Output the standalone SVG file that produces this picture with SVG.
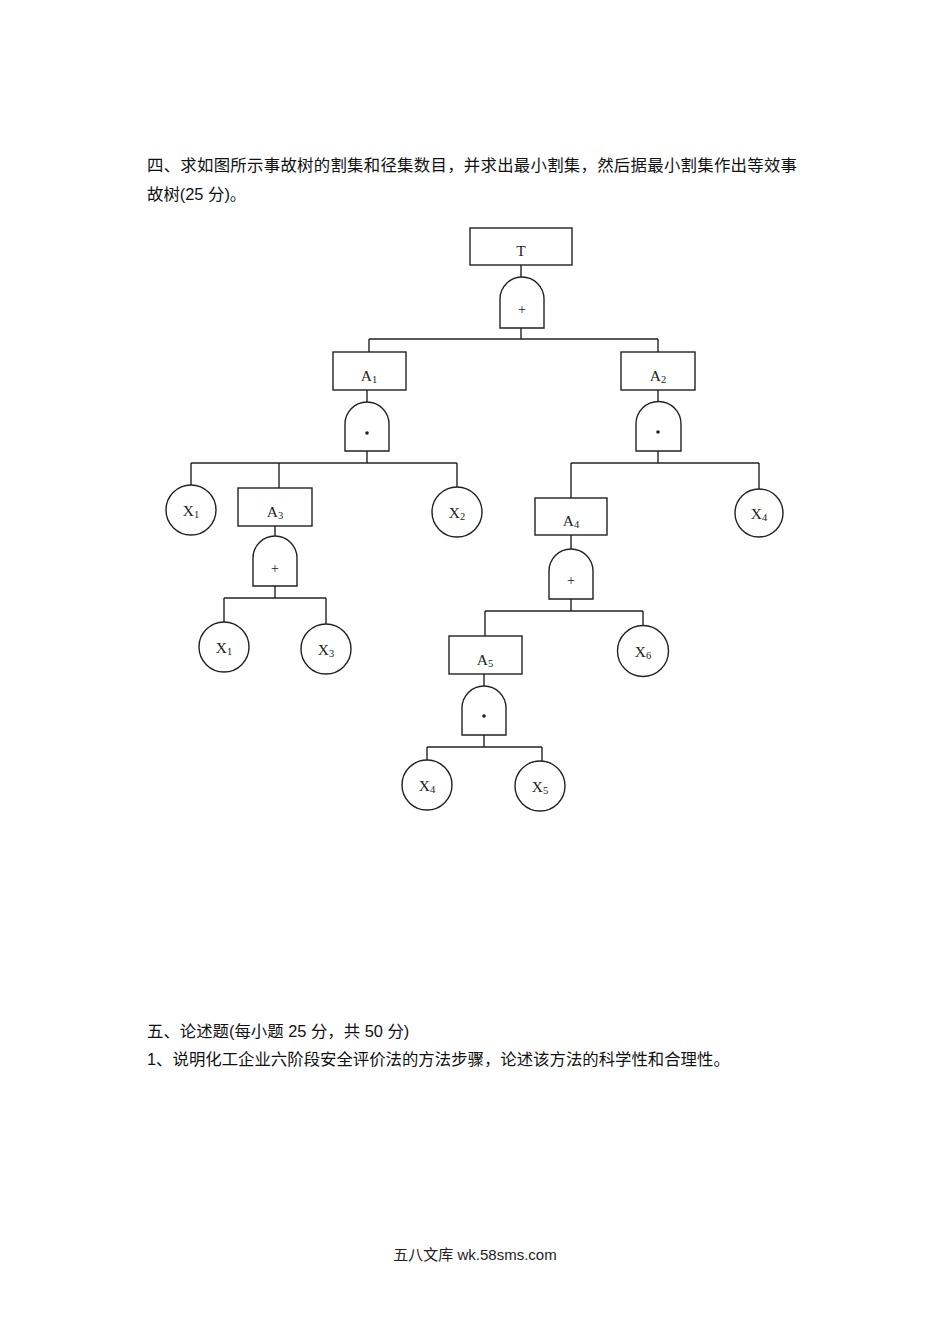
<svg xmlns="http://www.w3.org/2000/svg" width="950" height="1344" viewBox="0 0 950 1344">
<style>
.box{fill:#fff;stroke:#222;stroke-width:1.4}
.gate{fill:#fff;stroke:#222;stroke-width:1.4}
.ev{fill:#fff;stroke:#222;stroke-width:1.4}
.lbl{font-family:"Liberation Serif",serif;font-size:15.5px;fill:#222;text-anchor:middle}
.sub{font-size:10.5px}
.sym{font-family:"Liberation Serif",serif;font-size:14px;fill:#222;text-anchor:middle}
.cn{font-family:"Liberation Sans","Noto Sans CJK SC",sans-serif;font-size:16.4px;fill:#111}
#connectors line{stroke:#222;stroke-width:1.4}
</style>
<rect width="950" height="1344" fill="#fff"/>
<text class="cn" x="147" y="171" textLength="650" lengthAdjust="spacing">四、求如图所示事故树的割集和径集数目，并求出最小割集，然后据最小割集作出等效事</text>
<text class="cn" x="147" y="200">故树(25 分)。</text>

<g id="connectors">
<line x1="521" y1="265" x2="521" y2="277"/>
<line x1="521" y1="328" x2="521" y2="339"/>
<line x1="369" y1="339" x2="658" y2="339"/>
<line x1="369" y1="339" x2="369" y2="352"/>
<line x1="658" y1="339" x2="658" y2="352"/>
<line x1="367" y1="390" x2="367" y2="402"/>
<line x1="367" y1="451" x2="367" y2="463"/>
<line x1="191" y1="463" x2="457" y2="463"/>
<line x1="191" y1="463" x2="191" y2="485"/>
<line x1="279" y1="463" x2="279" y2="488"/>
<line x1="457" y1="463" x2="457" y2="487"/>
<line x1="658" y1="390" x2="658" y2="402"/>
<line x1="658" y1="451" x2="658" y2="463"/>
<line x1="571" y1="463" x2="759" y2="463"/>
<line x1="571" y1="463" x2="571" y2="498"/>
<line x1="759" y1="463" x2="759" y2="489"/>
<line x1="275" y1="526" x2="275" y2="536"/>
<line x1="275" y1="586" x2="275" y2="598"/>
<line x1="224" y1="598" x2="326" y2="598"/>
<line x1="224" y1="598" x2="224" y2="622"/>
<line x1="326" y1="598" x2="326" y2="624"/>
<line x1="571" y1="535" x2="571" y2="549"/>
<line x1="571" y1="599" x2="571" y2="611"/>
<line x1="485" y1="611" x2="643" y2="611"/>
<line x1="485" y1="611" x2="485" y2="636"/>
<line x1="643" y1="611" x2="643" y2="625"/>
<line x1="484" y1="674" x2="484" y2="686"/>
<line x1="484" y1="735" x2="484" y2="747"/>
<line x1="427" y1="747" x2="542" y2="747"/>
<line x1="427" y1="747" x2="427" y2="760"/>
<line x1="542" y1="747" x2="542" y2="761"/>
</g>

<g id="T"><rect class="box" x="470" y="228" width="102" height="37"/><text class="lbl" x="521" y="256">T</text></g>
<g id="G_T"><path class="gate" d="M500,328 V299 A22,22 0 0 1 544,299 V328 Z"/><text class="sym" x="522" y="314">+</text></g>

<g id="A1"><rect class="box" x="333" y="352" width="73" height="38"/><text class="lbl" x="369" y="381">A<tspan class="sub" dy="2">1</tspan></text></g>
<g id="G_A1"><path class="gate" d="M345,451 V424 A22,22 0 0 1 389,424 V451 Z"/><circle cx="367" cy="433" r="1.8" fill="#222"/></g>

<g id="A2"><rect class="box" x="621" y="352" width="74" height="38"/><text class="lbl" x="658" y="381">A<tspan class="sub" dy="2">2</tspan></text></g>
<g id="G_A2"><path class="gate" d="M636,451 V424 A22.5,22.5 0 0 1 681,424 V451 Z"/><circle cx="658" cy="432" r="1.8" fill="#222"/></g>

<g id="X1a"><circle class="ev" cx="191" cy="510" r="25"/><text class="lbl" x="191" y="516">X<tspan class="sub" dy="2">1</tspan></text></g>
<g id="A3"><rect class="box" x="238" y="488" width="74" height="38"/><text class="lbl" x="275" y="517">A<tspan class="sub" dy="2">3</tspan></text></g>
<g id="X2"><circle class="ev" cx="457" cy="512" r="25"/><text class="lbl" x="457" y="518">X<tspan class="sub" dy="2">2</tspan></text></g>

<g id="A4"><rect class="box" x="535" y="498" width="72" height="37"/><text class="lbl" x="571" y="526">A<tspan class="sub" dy="2">4</tspan></text></g>
<g id="X4a"><circle class="ev" cx="759" cy="513" r="24"/><text class="lbl" x="759" y="519">X<tspan class="sub" dy="2">4</tspan></text></g>

<g id="G_A3"><path class="gate" d="M253,586 V558 A22,22 0 0 1 297,558 V586 Z"/><text class="sym" x="275" y="573">+</text></g>
<g id="X1b"><circle class="ev" cx="224" cy="647" r="25"/><text class="lbl" x="224" y="653">X<tspan class="sub" dy="2">1</tspan></text></g>
<g id="X3"><circle class="ev" cx="326" cy="649" r="25"/><text class="lbl" x="326" y="655">X<tspan class="sub" dy="2">3</tspan></text></g>

<g id="G_A4"><path class="gate" d="M549,599 V571 A22,22 0 0 1 593,571 V599 Z"/><text class="sym" x="571" y="585">+</text></g>
<g id="A5"><rect class="box" x="449" y="636" width="73" height="38"/><text class="lbl" x="485" y="665">A<tspan class="sub" dy="2">5</tspan></text></g>
<g id="X6"><circle class="ev" cx="643" cy="651" r="25.5"/><text class="lbl" x="643" y="657">X<tspan class="sub" dy="2">6</tspan></text></g>

<g id="G_A5"><path class="gate" d="M462,735 V708 A22,22 0 0 1 506,708 V735 Z"/><circle cx="484" cy="716" r="1.8" fill="#222"/></g>
<g id="X4b"><circle class="ev" cx="427" cy="785" r="25"/><text class="lbl" x="427" y="791">X<tspan class="sub" dy="2">4</tspan></text></g>
<g id="X5"><circle class="ev" cx="540" cy="786" r="25"/><text class="lbl" x="540" y="792">X<tspan class="sub" dy="2">5</tspan></text></g>

<text class="cn" x="147" y="1037">五、论述题(每小题 25 分，共 50 分)</text>
<text class="cn" x="147" y="1065">1、说明化工企业六阶段安全评价法的方法步骤，论述该方法的科学性和合理性。</text>
<text class="cn" x="475" y="1260" text-anchor="middle" style="font-size:15px;fill:#222">五八文库 wk.58sms.com</text>
</svg>
